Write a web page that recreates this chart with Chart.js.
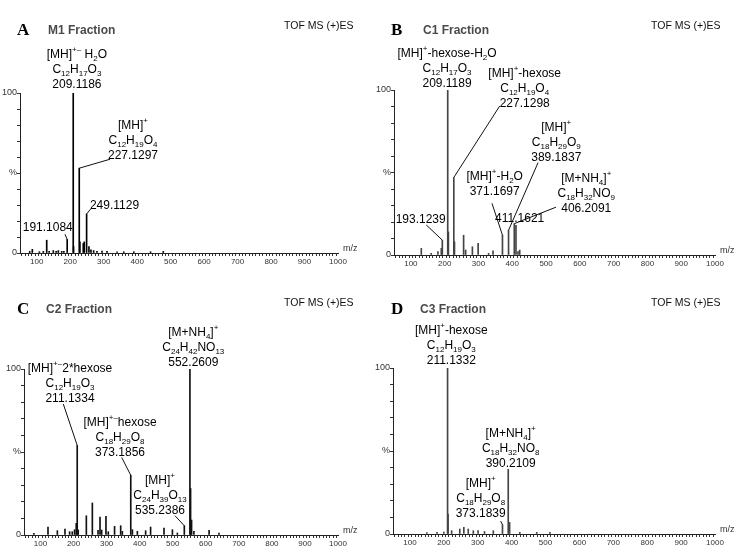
<!DOCTYPE html>
<html>
<head>
<meta charset="utf-8">
<script src="https://cdn.jsdelivr.net/npm/chart.js@4/dist/chart.umd.min.js"></script>
<style>
html,body{margin:0;padding:0;background:#fff;}
#wrap{position:relative;width:736px;height:553px;overflow:hidden;}
canvas{position:absolute;}
</style>
</head>
<body>
<div id="wrap">
<canvas id="cA" width="368" height="276" style="left:0;top:0"></canvas>
<canvas id="cB" width="368" height="276" style="left:368px;top:0"></canvas>
<canvas id="cC" width="368" height="277" style="left:0;top:276px"></canvas>
<canvas id="cD" width="368" height="277" style="left:368px;top:276px"></canvas>
</div>
<script>
// ---------- data: m/z (x) and relative intensity % (y) ----------
const mzA  = [79, 86.8, 108, 119.7, 129.8, 137, 149.5, 158, 164.5, 174.6, 181, 191, 209, 210, 227, 229, 239, 242, 249, 256, 262, 270, 280, 295, 310, 340, 360, 390, 440, 478];
const intA = [1, 2.3, 0.8, 1, 8, 1, 1.5, 1, 1.5, 1, 1, 8.5, 100, 4, 53, 7, 6, 7, 24.4, 4, 2, 1.5, 1, 1.2, 1, 0.8, 0.8, 0.8, 0.8, 1];

const mzB  = [130.8, 160, 180, 190, 193, 209, 211, 227, 229, 256, 262, 282, 299, 330, 343, 371, 389, 406, 411, 417, 422];
const intB = [4, 1, 2, 4, 9, 100, 14, 47, 8, 12, 3, 5, 7, 1, 2.6, 12, 15, 19, 18, 2, 3];

const mzC  = [80, 122.6, 150.9, 174, 188, 196, 203, 208, 211, 214, 238.6, 256.8, 274, 280, 285, 298, 305, 324, 342.5, 347.5, 373, 378, 393, 418, 433, 473.6, 499, 514, 535, 552, 554, 557, 564, 610, 640];
const intC = [1, 4.8, 2.6, 3.6, 2, 2, 3.2, 7, 54, 3, 11.6, 19.3, 2.8, 10.8, 3, 11.2, 2, 5.2, 5.6, 2.2, 36, 3.2, 2.2, 2.6, 4.8, 4.2, 3.2, 1.2, 5.6, 100, 28, 9, 2.2, 2.8, 1.2];

const mzD  = [150, 180, 200, 211, 212.5, 223, 247, 259, 272, 287, 301, 320, 346, 373, 390, 394, 424, 474, 513];
const intD = [0.8, 1, 1.2, 100, 12, 2, 3, 4, 3, 2, 2, 1.5, 2, 5.5, 39, 7, 1, 1, 1];

// tick labels
const xTickLabels = [100, 200, 300, 400, 500, 600, 700, 800, 900, 1000];
const yTickLabels = {0: '0', 50: '%', 100: '100'};

// peak annotations (text, anchor in data units, leader to peak)
const annA = [
  {x: 220, y: 102.9, lines: ['[MH]^{+–} H_{2}O', 'C_{12}H_{17}O_{3}', '209.1186']},
  {x: 387.6, y: 58.75, lines: ['[MH]^{+}', 'C_{12}H_{19}O_{4}', '227.1297'], peak: 227, to: [318.9, 58.6]},
  {x: 332.3, y: 27.2, lines: ['249.1129'], peak: 249, to: [261.2, 27.5]},
  {x: 132.9, y: 13.5, lines: ['191.1084'], peak: 191, to: [184.4, 11.7]}
];
const annB = [
  {x: 207, y: 101.6, lines: ['[MH]^{+}-hexose-H_{2}O', 'C_{12}H_{17}O_{3}', '209.1189']},
  {x: 436.8, y: 89.5, lines: ['[MH]^{+}-hexose', 'C_{12}H_{19}O_{4}', '227.1298'], peak: 227, to: [362.8, 90.3]},
  {x: 530.3, y: 57, lines: ['[MH]^{+}', 'C_{18}H_{29}O_{9}', '389.1837'], peak: 389, to: [476.2, 55.9]},
  {x: 348, y: 36.4, lines: ['[MH]^{+}-H_{2}O', '371.1697'], peak: 371, to: [340, 31.3]},
  {x: 619, y: 26.2, lines: ['[M+NH_{4}]^{+}', 'C_{18}H_{32}NO_{9}', '406.2091'], peak: 406, to: [529.5, 29]},
  {x: 422, y: 20.2, lines: ['411.1621']},
  {x: 129, y: 19.6, lines: ['193.1239'], peak: 193, to: [145.6, 18.2]}
];
const annC = [
  {x: 562.2, y: 102, lines: ['[M+NH_{4}]^{+}', 'C_{24}H_{42}NO_{13}', '552.2609']},
  {x: 189.2, y: 80.3, lines: ['[MH]^{+–}2*hexose', 'C_{12}H_{19}O_{3}', '211.1334'], peak: 211, to: [168.9, 78.9]},
  {x: 340.4, y: 47.8, lines: ['[MH]^{+–}hexose', 'C_{18}H_{29}O_{8}', '373.1856'], peak: 373, to: [345.6, 46.7]},
  {x: 461.5, y: 12.7, lines: ['[MH]^{+}', 'C_{24}H_{39}O_{13}', '535.2386'], peak: 535, to: [506.8, 11.6]}
];
const annD = [
  {x: 222, y: 102.2, lines: ['[MH]^{+}-hexose', 'C_{12}H_{19}O_{3}', '211.1332']},
  {x: 397.2, y: 40.4, lines: ['[M+NH_{4}]^{+}', 'C_{18}H_{32}NO_{8}', '390.2109']},
  {x: 308.7, y: 10.4, lines: ['[MH]^{+}', 'C_{18}H_{29}O_{8}', '373.1839'], peak: 373, to: [367.7, 7.8]}
];

// ---------- rendering helpers ----------
const SANS = '"Liberation Sans", Arial, sans-serif';
const LINE = 15;
function parseRich(s) {
  const out = []; const re = /(\^\{[^}]*\}|_\{[^}]*\})/g; let last = 0, m;
  while ((m = re.exec(s))) {
    if (m.index > last) out.push({t: s.slice(last, m.index), k: 0});
    out.push({t: m[0].slice(2, -1), k: m[0][0] === '^' ? 1 : -1});
    last = re.lastIndex;
  }
  if (last < s.length) out.push({t: s.slice(last), k: 0});
  return out;
}
function fontFor(k) { return k === 0 ? '12px ' + SANS : '8px ' + SANS; }
function drawRich(ctx, s, cx, by) {
  const segs = parseRich(s);
  let w = 0;
  segs.forEach(sg => { ctx.font = fontFor(sg.k); sg.w = ctx.measureText(sg.t).width; w += sg.w; });
  let x = cx - w / 2;
  ctx.textAlign = 'left'; ctx.textBaseline = 'alphabetic';
  segs.forEach(sg => {
    ctx.font = fontFor(sg.k);
    const dy = sg.k === 1 ? -6 : (sg.k === -1 ? 3 : 0);
    ctx.fillText(sg.t, x, by + dy);
    x += sg.w;
  });
}

const msPlugin = {
  id: 'ms',
  afterDraw(chart, args, o) {
    const {ctx, chartArea} = chart; const xs = chart.scales.x, ys = chart.scales.y;
    const pts = chart.data.datasets[0].data;
    ctx.save();
    ctx.textBaseline = 'middle'; ctx.textAlign = 'left';
    ctx.fillStyle = '#000'; ctx.font = 'bold 17px "Liberation Serif", serif';
    ctx.fillText(o.letter, o.head.lx, o.head.ly);
    ctx.fillStyle = '#4a4a4a'; ctx.font = 'bold 12px ' + SANS;
    ctx.fillText(o.title, o.head.tx, o.head.ly);
    ctx.fillStyle = '#111'; ctx.font = '10.5px ' + SANS;
    ctx.fillText('TOF MS (+)ES', o.head.ox, o.head.oy);
    ctx.fillStyle = '#333'; ctx.font = '9px ' + SANS;
    ctx.fillText('m/z', chartArea.right + 5, chartArea.bottom - 4);
    ctx.fillStyle = '#000';
    ctx.strokeStyle = '#111'; ctx.lineWidth = 1;
    for (const a of o.items) {
      const cx = xs.getPixelForValue(a.x), by = ys.getPixelForValue(a.y);
      a.lines.forEach((ln, i) => drawRich(ctx, ln, cx, by - (a.lines.length - 1 - i) * LINE));
      if (a.peak != null) {
        let best = pts[0];
        pts.forEach(p => { if (Math.abs(p.x - a.peak) < Math.abs(best.x - a.peak)) best = p; });
        ctx.beginPath();
        ctx.moveTo(xs.getPixelForValue(best.x), ys.getPixelForValue(best.y));
        ctx.lineTo(xs.getPixelForValue(a.to[0]), ys.getPixelForValue(a.to[1]));
        ctx.stroke();
      }
    }
    ctx.restore();
  }
};

function makeChart(id, mz, inten, color, geo, letter, title, head, items) {
  const H = document.getElementById(id).height, W = 368;
  const YW = 20, XH = 16;
  return new Chart(document.getElementById(id), {
    type: 'bar',
    data: {datasets: [{
      data: mz.map((m, i) => ({x: m, y: inten[i]})),
      backgroundColor: color, borderWidth: 0, barThickness: 1, grouped: false
    }]},
    options: {
      responsive: false, animation: false, devicePixelRatio: 1,
      layout: {padding: {left: geo.L - YW, right: W - geo.R, top: geo.T, bottom: H - geo.B - XH}},
      plugins: {legend: {display: false}, tooltip: {enabled: false},
        ms: {letter, title, head, items}},
      scales: {
        x: {type: 'linear', min: 50, max: 1000, offset: false,
          afterFit: s => { s.height = XH; },
          border: {display: true, color: '#222', width: 1},
          grid: {display: true, drawOnChartArea: false, drawTicks: true, tickLength: 3, tickColor: '#333'},
          ticks: {stepSize: 10, autoSkip: false, maxRotation: 0, minRotation: 0, maxTicksLimit: 1000,
            padding: 1, color: '#333', font: {family: SANS, size: 8},
            callback: v => xTickLabels.includes(v) ? String(v) : ''}
        },
        y: {type: 'linear', min: 0, max: 100,
          afterFit: s => { s.width = YW; },
          border: {display: true, color: '#222', width: 1},
          grid: {display: true, drawOnChartArea: false, drawTicks: true, tickLength: 3, tickColor: '#333'},
          ticks: {stepSize: 10, autoSkip: false, padding: 0, color: '#333', font: {family: SANS, size: 9},
            callback: v => (v in yTickLabels) ? yTickLabels[v] : ''}
        }
      }
    },
    plugins: [msPlugin]
  });
}

makeChart('cA', mzA, intA, '#000', {L: 20, R: 338, T: 93, B: 253}, 'A', 'M1 Fraction',
  {lx: 17, ly: 31, tx: 48, ox: 284, oy: 26}, annA);
makeChart('cB', mzB, intB, '#444', {L: 26, R: 347, T: 90, B: 255}, 'B', 'C1 Fraction',
  {lx: 23, ly: 31, tx: 55, ox: 283, oy: 26}, annB);
makeChart('cC', mzC, intC, '#111', {L: 24, R: 338, T: 93, B: 259}, 'C', 'C2 Fraction',
  {lx: 17, ly: 34, tx: 46, ox: 284, oy: 27}, annC);
makeChart('cD', mzD, intD, '#444', {L: 25, R: 347, T: 92, B: 258}, 'D', 'C3 Fraction',
  {lx: 23, ly: 34, tx: 52, ox: 283, oy: 27}, annD);
</script>
</body>
</html>
